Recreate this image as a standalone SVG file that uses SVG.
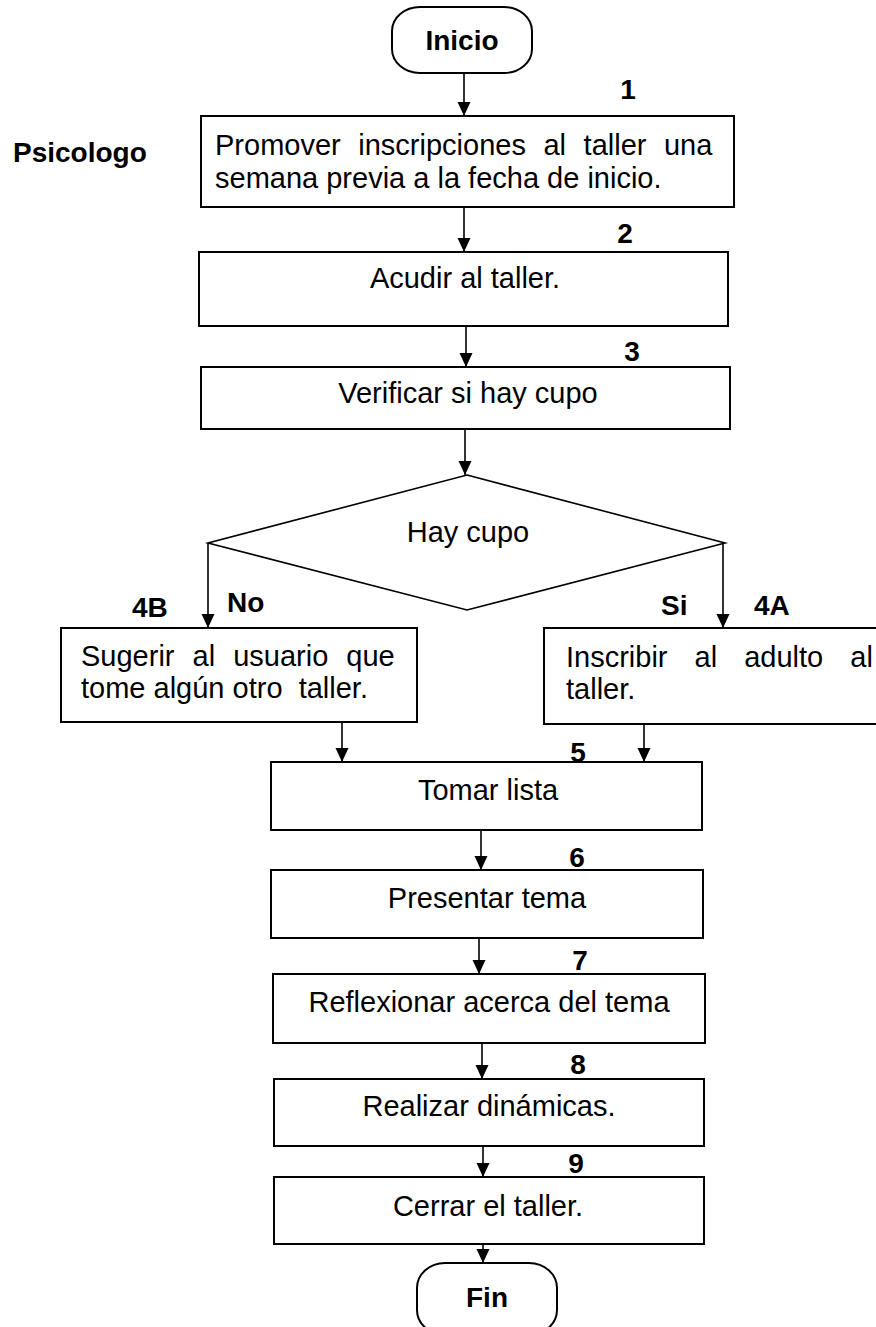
<svg xmlns="http://www.w3.org/2000/svg" width="876" height="1327" viewBox="0 0 876 1327">
<defs>
<style>
.box{fill:#fff;stroke:#000;stroke-width:2}
.dia{fill:#fff;stroke:#000;stroke-width:1.6}
.t{font-family:"Liberation Sans",Arial,sans-serif;font-size:29px;fill:#000}
.b{font-family:"Liberation Sans",Arial,sans-serif;font-size:28px;font-weight:bold;fill:#000}
.c{text-anchor:middle}
.ln{fill:none;stroke:#000;stroke-width:1.6;marker-end:url(#ah)}
</style>
<marker id="ah" markerUnits="userSpaceOnUse" markerWidth="14" markerHeight="14" refX="14" refY="6.5" orient="auto">
<path d="M0,0 L14,6.5 L0,13 z" fill="#000"/>
</marker>
</defs>
<rect width="876" height="1327" fill="#fff"/>
<g id="connectors">
<line class="ln" x1="464" y1="73" x2="464" y2="116"/>
<line class="ln" x1="464" y1="207" x2="464" y2="252"/>
<line class="ln" x1="466" y1="326" x2="466" y2="367"/>
<line class="ln" x1="465" y1="429" x2="465" y2="475"/>
<line class="ln" x1="208" y1="543" x2="208" y2="628"/>
<line class="ln" x1="723" y1="543" x2="723" y2="628"/>
<line class="ln" x1="342" y1="722" x2="342" y2="762"/>
<line class="ln" x1="644" y1="724" x2="644" y2="762"/>
<line class="ln" x1="481" y1="830" x2="481" y2="870"/>
<line class="ln" x1="479" y1="938" x2="479" y2="974"/>
<line class="ln" x1="482" y1="1043" x2="482" y2="1079"/>
<line class="ln" x1="483" y1="1146" x2="483" y2="1177"/>
<line class="ln" x1="483" y1="1244" x2="483" y2="1263"/>
</g>
<g id="inicio">
<rect class="box" x="392" y="7" width="140" height="66" rx="28" ry="24"/>
<text class="b c" x="462" y="50">Inicio</text>
</g>
<g id="actor">
<text class="b" x="13" y="162">Psicologo</text>
</g>
<g id="step1">
<rect class="box" x="201" y="116" width="533" height="91"/>
<text class="b c" x="628" y="99">1</text>
<text class="t" x="215" y="155" word-spacing="9.5">Promover inscripciones al taller una</text>
<text class="t" x="215" y="188">semana previa a la fecha de inicio.</text>
</g>
<g id="step2">
<rect class="box" x="199" y="252" width="529" height="74"/>
<text class="b c" x="625" y="243">2</text>
<text class="t c" x="465" y="288">Acudir al taller.</text>
</g>
<g id="step3">
<rect class="box" x="201" y="367" width="529" height="62"/>
<text class="b c" x="632" y="361">3</text>
<text class="t c" x="468" y="403">Verificar si hay cupo</text>
</g>
<g id="decision">
<polygon class="dia" points="467,475 725,543 467,610 208,543"/>
<text class="t c" x="468" y="542">Hay cupo</text>
<text class="b" x="227" y="612">No</text>
<text class="b" x="661" y="615">Si</text>
</g>
<g id="step4B">
<text class="b" x="132" y="617">4B</text>
<rect class="box" x="61" y="628" width="356" height="94"/>
<text class="t" x="81" y="666" word-spacing="10">Sugerir al usuario que</text>
<text class="t" x="81" y="698" xml:space="preserve">tome algún otro  taller.</text>
</g>
<g id="step4A">
<text class="b" x="754" y="615">4A</text>
<rect class="box" x="544" y="628" width="350" height="96"/>
<text class="t" x="566" y="667" word-spacing="19">Inscribir al adulto al</text>
<text class="t" x="566" y="699">taller.</text>
</g>
<g id="step5">
<rect class="box" x="271" y="762" width="431" height="68"/>
<text class="b c" x="578" y="762">5</text>
<text class="t c" x="488" y="800">Tomar lista</text>
</g>
<g id="step6">
<rect class="box" x="271" y="870" width="432" height="68"/>
<text class="b c" x="577" y="867">6</text>
<text class="t c" x="487" y="908">Presentar tema</text>
</g>
<g id="step7">
<rect class="box" x="273" y="974" width="432" height="69"/>
<text class="b c" x="580" y="970">7</text>
<text class="t c" x="489" y="1012">Reflexionar acerca del tema</text>
</g>
<g id="step8">
<rect class="box" x="274" y="1079" width="430" height="67"/>
<text class="b c" x="578" y="1074">8</text>
<text class="t c" x="489" y="1116">Realizar dinámicas.</text>
</g>
<g id="step9">
<rect class="box" x="274" y="1177" width="430" height="67"/>
<text class="b c" x="576" y="1173">9</text>
<text class="t c" x="488" y="1216">Cerrar el taller.</text>
</g>
<g id="fin">
<rect class="box" x="417" y="1263" width="140" height="72" rx="28" ry="25"/>
<text class="b c" x="487" y="1307">Fin</text>
</g>
</svg>
